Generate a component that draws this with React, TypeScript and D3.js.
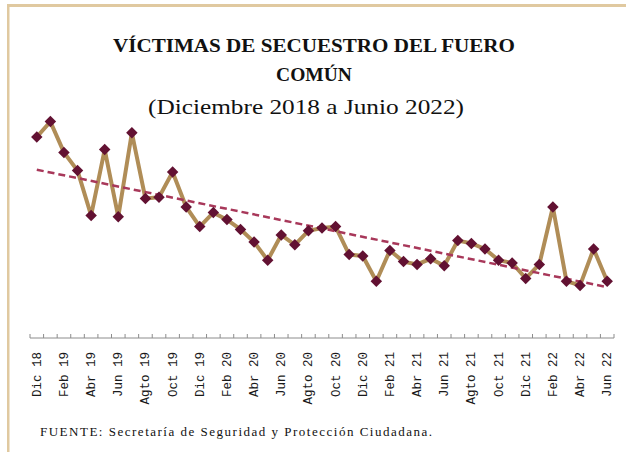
import React from 'react';
import * as d3 from 'd3';

// months Dic 2018 - Jun 2022
const months = [
  'Dic 18', 'Ene 19', 'Feb 19', 'Mar 19', 'Abr 19', 'May 19', 'Jun 19', 'Jul 19', 'Agto 19', 'Sep 19', 'Oct 19', 'Nov 19',
  'Dic 19', 'Ene 20', 'Feb 20', 'Mar 20', 'Abr 20', 'May 20', 'Jun 20', 'Jul 20', 'Agto 20', 'Sep 20', 'Oct 20', 'Nov 20',
  'Dic 20', 'Ene 21', 'Feb 21', 'Mar 21', 'Abr 21', 'May 21', 'Jun 21', 'Jul 21', 'Agto 21', 'Sep 21', 'Oct 21', 'Nov 21',
  'Dic 21', 'Ene 22', 'Feb 22', 'Mar 22', 'Abr 22', 'May 22', 'Jun 22',
];

const victimas = [
  160, 171, 149, 136, 104, 151, 103, 163, 116, 117, 135, 110,
  96, 106, 101, 94, 85, 72, 90, 83, 93, 95, 96, 76,
  75, 57, 79, 71, 69, 73, 68, 86, 84, 80, 72, 70,
  59, 69, 110, 57, 54, 80, 57,
];

const titulo = ['VÍCTIMAS DE SECUESTRO DEL FUERO', 'COMÚN'];
const subtitulo = '(Diciembre 2018 a Junio 2022)';
const fuente = 'FUENTE: Secretaría de Seguridad y Protección Ciudadana.';

const W = 626;
const H = 458;

const App: React.FC = () => {
  const x = d3.scaleBand<string>().domain(months).range([30, 614]).paddingInner(0).paddingOuter(0);
  const y = d3.scaleLinear().domain([20, 185]).range([333, 102]);
  const cx = (m: string) => (x(m) as number) + x.bandwidth() / 2;

  const pts = months.map((m, i) => ({ m, i, v: victimas[i] }));

  const line = d3
    .line<{ m: string; v: number }>()
    .x((d) => cx(d.m))
    .y((d) => y(d.v));

  // linear trend (least squares)
  const n = victimas.length;
  const mx = d3.mean(pts, (d) => d.i) as number;
  const my = d3.mean(victimas) as number;
  const slope =
    d3.sum(pts, (d) => (d.i - mx) * (d.v - my)) / d3.sum(pts, (d) => (d.i - mx) * (d.i - mx));
  const icpt = my - slope * mx;
  const t0 = icpt;
  const t1 = icpt + slope * (n - 1);

  const diamond = d3.symbol().type(d3.symbolDiamond2).size(84)();

  const ticks = [...months.map((m) => x(m) as number), 614];

  return (
    <svg width={W} height={H} style={{ position: 'absolute', left: 0, top: 0 }}>
      <rect x={0} y={0} width={W} height={H} fill="#fff" />
      {/* frame */}
      <rect x={7} y={4} width={W} height={3} fill="#e0c9a0" />
      <rect x={7} y={4} width={2.5} height={448} fill="#e0c9a0" />

      <g fontFamily="'Liberation Serif', serif" textAnchor="middle" fill="#111">
        <text x={314} y={52} fontSize={19.5} fontWeight="bold" textLength={402} lengthAdjust="spacingAndGlyphs">
          {titulo[0]}
        </text>
        <text x={314} y={81} fontSize={19.5} fontWeight="bold">
          {titulo[1]}
        </text>
        <text x={306} y={114} fontSize={21} textLength={316} lengthAdjust="spacingAndGlyphs">
          {subtitulo}
        </text>
      </g>

      {/* axis */}
      <line x1={30} x2={614} y1={338} y2={338} stroke="#8c8c8c" strokeWidth={1} />
      {ticks.map((t, i) => (
        <line key={i} x1={t} x2={t} y1={334} y2={338} stroke="#8c8c8c" strokeWidth={1} />
      ))}
      {months.map((m, i) =>
        i % 2 === 0 ? (
          <text
            key={m}
            transform={`translate(${cx(m) + 1},352) rotate(-90)`}
            textAnchor="end"
            dominantBaseline="central"
            fontFamily="'Courier New', 'Liberation Mono', monospace"
            fontSize={12.5}
            fill="#1a1a1a"
          >
            {m}
          </text>
        ) : null
      )}

      {/* series */}
      <path d={line(pts) as string} fill="none" stroke="#b08d57" strokeWidth={4} strokeLinejoin="miter" />
      <line
        x1={cx(months[0])}
        x2={cx(months[n - 1])}
        y1={y(t0)}
        y2={y(t1)}
        stroke="#a8385a"
        strokeWidth={2.5}
        strokeDasharray="7,4"
      />
      {pts.map((d) => (
        <path key={d.m} d={diamond as string} transform={`translate(${cx(d.m)},${y(d.v)})`} fill="#621132" />
      ))}

      <text
        x={40}
        y={436}
        fontFamily="'Liberation Serif', serif"
        fontSize={13}
        fill="#111"
        textLength={392}
        lengthAdjust="spacing"
      >
        {fuente}
      </text>
    </svg>
  );
};

export default App;
